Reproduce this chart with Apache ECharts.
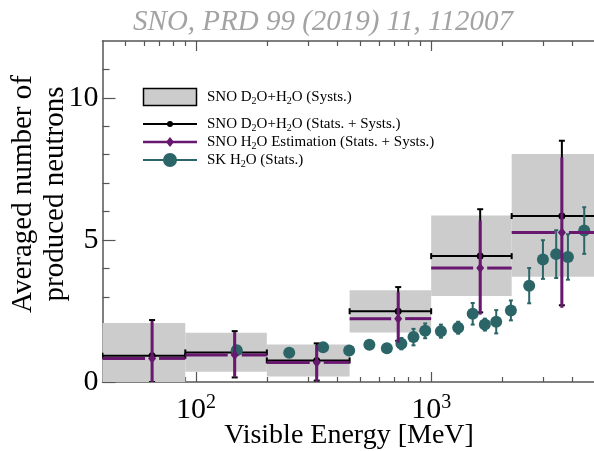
<!DOCTYPE html>
<html>
<head>
<meta charset="utf-8">
<script src="https://cdn.jsdelivr.net/npm/echarts@6/dist/echarts.min.js"></script>
<style>
html, body { margin: 0; padding: 0; background: #fff; }
#chart-1 { width: 594px; height: 451px; }
</style>
</head>
<body>
<div id="chart-1"></div>
<script>
/************************        SNO / SK neutron multiplicity                       **************************/

// energy bins of the SNO measurement [MeV]
var binLo = [40, 90, 200, 450, 1000, 2200];
var binHi = [90, 200, 450, 1000, 2200, 6000];
var snoE  = [65, 146, 326, 724, 1616, 3597];

// SNO D2O+H2O systematic band
var sysLo = [0, 0.36, 0.19, 1.74, 3.03, 3.70];
var sysHi = [2.08, 1.73, 1.32, 3.23, 5.86, 8.02];

// SNO D2O+H2O (stats + systs)
var d2oVal = [0.92, 1.04, 0.76, 2.49, 4.43, 5.84];
var d2oLo  = [0, 0.16, 0.05, 1.45, 2.45, 2.70];
var d2oHi  = [2.18, 1.79, 1.36, 3.34, 6.08, 8.49];

// SNO H2O estimation (stats + systs)
var h2oVal = [0.83, 0.95, 0.69, 2.23, 4.01, 5.26];
var h2oLo  = [0, 0.16, 0, 1.38, 2.37, 2.61];
var h2oHi  = [2.14, 1.76, 1.30, 3.16, 5.68, 7.90];

// SK H2O (stats)
var skE   = [149, 249, 347, 448, 546, 648, 747, 841, 943, 1100, 1303, 1502, 1692, 1891, 2183, 2612, 2988, 3403, 3817, 4477];
var skVal = [1.12, 1.03, 1.22, 1.11, 1.31, 1.19, 1.35, 1.58, 1.80, 1.79, 1.91, 2.40, 2.02, 2.12, 2.52, 3.39, 4.31, 4.50, 4.40, 5.33];
var skErr = [0.05, 0.05, 0.06, 0.07, 0.10, 0.12, 0.20, 0.29, 0.26, 0.23, 0.21, 0.38, 0.21, 0.41, 0.35, 0.62, 0.68, 0.84, 0.80, 0.82];

// axis ticks
var xMajor = [100, 1000];
var xMinor = [50, 60, 70, 80, 90, 200, 300, 400, 500, 600, 700, 800, 900, 2000, 3000, 4000];
var yMajor = [0, 5, 10];
var yMinor = [1, 2, 3, 4, 6, 7, 8, 9, 11];

var FONT = 'Liberation Serif';
var AXIS_COLOR = '#555';
var C_SYS = '#cccccc';
var C_D2O = '#000000';
var C_H2O = '#68196f';
var C_SK = '#2b6567';

var sysData = binLo.map(function (lo, i) { return [lo, binHi[i], sysLo[i], sysHi[i]]; });
var d2oData = snoE.map(function (e, i) { return [e, d2oVal[i], d2oLo[i], d2oHi[i], binLo[i], binHi[i]]; });
var h2oData = snoE.map(function (e, i) { return [e, h2oVal[i], h2oLo[i], h2oHi[i], binLo[i], binHi[i]]; });
var skData = skE.map(function (e, i) { return [e, skVal[i], skVal[i] - skErr[i], skVal[i] + skErr[i]]; });

function renderBox(params, api) {
    var a = api.coord([api.value(0), api.value(3)]);
    var b = api.coord([api.value(1), api.value(2)]);
    return {
        type: 'rect',
        shape: { x: a[0], y: a[1], width: b[0] - a[0], height: b[1] - a[1] },
        style: { fill: C_SYS }
    };
}

function lineEl(x1, y1, x2, y2, color, lw) {
    return { type: 'line', shape: { x1: x1, y1: y1, x2: x2, y2: y2 }, style: { stroke: color, lineWidth: lw } };
}

function makeErrBar(o) {
    return function (params, api) {
        var e = api.value(0), v = api.value(1);
        var c = api.coord([e, v]);
        var lo = api.coord([e, api.value(2)]);
        var hi = api.coord([e, api.value(3)]);
        var ch = [];
        if (o.xbar) {
            var l = api.coord([api.value(4), v]);
            var r = api.coord([api.value(5), v]);
            if (o.gap) {
                ch.push(lineEl(l[0], c[1], c[0] - o.gap, c[1], o.color, o.lw));
                ch.push(lineEl(c[0] + o.gap, c[1], r[0], c[1], o.color, o.lw));
            } else {
                ch.push(lineEl(l[0], c[1], r[0], c[1], o.color, o.lw));
            }
            if (o.cap) {
                ch.push(lineEl(l[0], c[1] - o.cap, l[0], c[1] + o.cap, o.color, o.lw));
                ch.push(lineEl(r[0], c[1] - o.cap, r[0], c[1] + o.cap, o.color, o.lw));
            }
        }
        ch.push(lineEl(c[0], lo[1], c[0], hi[1], o.color, o.lw));
        if (o.cap) {
            ch.push(lineEl(c[0] - o.cap, lo[1], c[0] + o.cap, lo[1], o.color, o.lw));
            ch.push(lineEl(c[0] - o.cap, hi[1], c[0] + o.cap, hi[1], o.color, o.lw));
        }
        if (o.marker === 'circle') {
            ch.push({ type: 'circle', shape: { cx: c[0], cy: c[1], r: o.size }, style: { fill: o.color } });
        } else if (o.marker === 'diamond') {
            ch.push({
                type: 'polygon',
                shape: { points: [[c[0], c[1] - o.size * 1.25], [c[0] + o.size, c[1]], [c[0], c[1] + o.size * 1.25], [c[0] - o.size, c[1]]] },
                style: { fill: o.color }
            });
        }
        return { type: 'group', children: ch };
    };
}

function richSub(parts) {
    // parts: text pieces, odd indices are subscripts
    return parts.map(function (p, i) { return (i % 2 ? '{s|' : '{n|') + p + '}'; }).join('');
}

var legendRich = {
    n: { fontFamily: FONT, fontSize: 15, lineHeight: 18, fill: '#000' },
    s: { fontFamily: FONT, fontSize: 10, lineHeight: 10, verticalAlign: 'bottom', fill: '#000' }
};

function legendText(y, parts) {
    return {
        type: 'text', x: 207, y: y,
        style: { text: richSub(parts), rich: legendRich, verticalAlign: 'middle', align: 'left' }
    };
}

var dom = document.getElementById('chart-1');
var myChart = echarts.init(dom, null, { renderer: 'canvas' });

var xBase = { type: 'log', logBase: 10, min: 40, max: 5000, gridIndex: 0, splitLine: { show: false } };
var yBase = { type: 'value', min: 0, max: 12, gridIndex: 0, splitLine: { show: false } };

option = {
    animation: false,
    backgroundColor: '#fff',
    grid: { left: 102.5, top: 41, width: 493, height: 341, outerBoundsMode: 'none', containLabel: false },
    xAxis: [
        Object.assign({}, xBase, {
            position: 'bottom',
            axisLine: { show: true, lineStyle: { color: AXIS_COLOR, width: 1.5 } },
            axisTick: { show: true, inside: true, length: 10, customValues: xMajor, lineStyle: { color: AXIS_COLOR, width: 1.2 } },
            axisLabel: {
                customValues: xMajor, margin: 11,
                formatter: function (v) { return '{a|10}{b|' + Math.round(Math.log10(v)) + '}'; },
                rich: {
                    a: { fontFamily: FONT, fontSize: 30, lineHeight: 34, color: '#000' },
                    b: { fontFamily: FONT, fontSize: 20, lineHeight: 20, verticalAlign: 'top', color: '#000' }
                }
            },
            name: 'Visible Energy [MeV]', nameLocation: 'middle', nameGap: 40, nameMoveOverlap: false,
            nameTextStyle: { fontFamily: FONT, fontSize: 28, color: '#000' }
        }),
        Object.assign({}, xBase, {
            position: 'bottom',
            axisLine: { show: false },
            axisTick: { show: true, inside: true, length: 5, customValues: xMinor, lineStyle: { color: AXIS_COLOR, width: 1.2 } },
            axisLabel: { show: false }
        }),
        Object.assign({}, xBase, {
            position: 'top',
            axisLine: { show: true, lineStyle: { color: AXIS_COLOR, width: 1.5 } },
            axisTick: { show: true, inside: true, length: 10, customValues: xMajor, lineStyle: { color: AXIS_COLOR, width: 1.2 } },
            axisLabel: { show: false }
        }),
        Object.assign({}, xBase, {
            position: 'top',
            axisLine: { show: false },
            axisTick: { show: true, inside: true, length: 5, customValues: xMinor, lineStyle: { color: AXIS_COLOR, width: 1.2 } },
            axisLabel: { show: false }
        })
    ],
    yAxis: [
        Object.assign({}, yBase, {
            position: 'left',
            axisLine: { show: true, lineStyle: { color: AXIS_COLOR, width: 1.5 } },
            axisTick: { show: true, inside: true, length: 13, customValues: yMajor, lineStyle: { color: AXIS_COLOR, width: 1.2 } },
            axisLabel: { customValues: yMajor, margin: 4, fontFamily: FONT, fontSize: 30, color: '#000' }
        }),
        Object.assign({}, yBase, {
            position: 'left',
            axisLine: { show: false },
            axisTick: { show: true, inside: true, length: 7, customValues: yMinor, lineStyle: { color: AXIS_COLOR, width: 1.2 } },
            axisLabel: { show: false }
        })
    ],
    graphic: [
        {
            type: 'text', x: 323, y: 22,
            style: { text: 'SNO, PRD 99 (2019) 11, 112007', font: 'italic 29px "Liberation Serif"', fill: '#a3a3a3', align: 'center', verticalAlign: 'middle' }
        },
        {
            type: 'text', x: 39, y: 194, rotation: Math.PI / 2,
            style: { text: 'Averaged number of\nproduced neutrons', font: '29px "Liberation Serif"', lineHeight: 32, fill: '#000', align: 'center', verticalAlign: 'middle' }
        },
        // legend
        { type: 'rect', shape: { x: 143.5, y: 88.5, width: 53, height: 17 }, style: { fill: C_SYS, stroke: '#000', lineWidth: 1.5 } },
        legendText(97, ['SNO D', '2', 'O+H', '2', 'O (Systs.)']),
        lineEl(143, 124, 197, 124, C_D2O, 2),
        { type: 'circle', shape: { cx: 170, cy: 124, r: 3 }, style: { fill: C_D2O } },
        legendText(124, ['SNO D', '2', 'O+H', '2', 'O (Stats. + Systs.)']),
        lineEl(143, 142, 197, 142, C_H2O, 2.5),
        { type: 'polygon', shape: { points: [[170, 137], [174, 142], [170, 147], [166, 142]] }, style: { fill: C_H2O } },
        legendText(142, ['SNO H', '2', 'O Estimation (Stats. + Systs.)']),
        lineEl(143, 160, 197, 160, C_SK, 2),
        { type: 'circle', shape: { cx: 170, cy: 160, r: 7 }, style: { fill: C_SK } },
        legendText(160, ['SK H', '2', 'O (Stats.)'])
    ],
    series: [
        {
            name: 'SNO D2O+H2O (Systs.)', type: 'custom', clip: true, z: 1,
            renderItem: renderBox,
            encode: { x: [0, 1], y: [2, 3] },
            data: sysData
        },
        {
            name: 'SNO D2O+H2O (Stats. + Systs.)', type: 'custom', clip: true, z: 2,
            renderItem: makeErrBar({ color: C_D2O, lw: 2, cap: 3, xbar: true, marker: 'circle', size: 3.5 }),
            encode: { x: 0, y: 1 },
            data: d2oData
        },
        {
            name: 'SK H2O (Stats.)', type: 'custom', clip: true, z: 3,
            renderItem: makeErrBar({ color: C_SK, lw: 2, cap: 2, xbar: false, marker: 'circle', size: 6 }),
            encode: { x: 0, y: 1 },
            data: skData
        },
        {
            name: 'SNO H2O Estimation (Stats. + Systs.)', type: 'custom', clip: true, z: 4,
            renderItem: makeErrBar({ color: C_H2O, lw: 3, cap: 0, xbar: true, gap: 7, marker: 'diamond', size: 4 }),
            encode: { x: 0, y: 1 },
            data: h2oData
        }
    ]
};

myChart.setOption(option);
</script>
</body>
</html>
